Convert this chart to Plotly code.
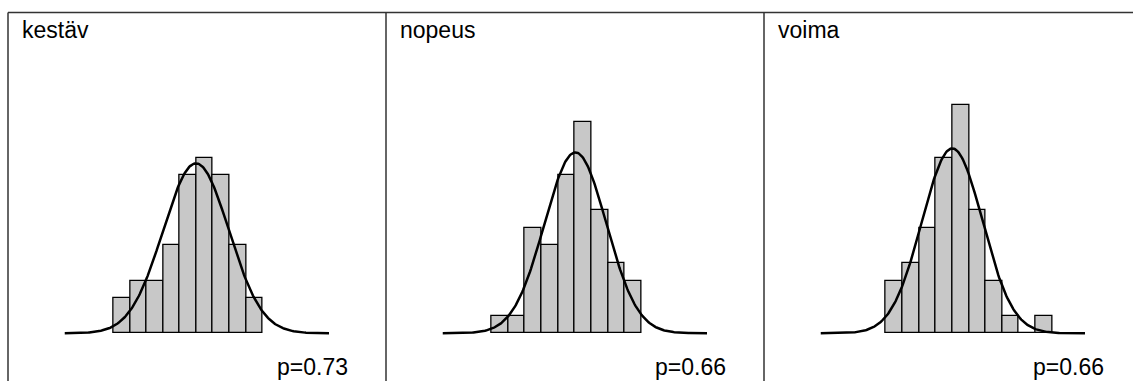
import numpy as np
import plotly.graph_objects as go

# ---- data ----
panel_titles = ["kestäv", "nopeus", "voima"]
p_labels = ["p=0.73", "p=0.66", "p=0.66"]

# histogram bin left edges (in bin-width units) and counts
kestav_edges = [0, 1, 2, 3, 4, 5, 6, 7, 8]
kestav_counts = [2, 3, 3, 5, 9, 10, 9, 5, 2]
nopeus_edges = [0, 1, 2, 3, 4, 5, 6, 7, 8]
nopeus_counts = [1, 1, 6, 5, 9, 12, 7, 4, 3]
voima_edges = [0, 1, 2, 3, 4, 5, 6, 7, 8, 9]
voima_counts = [3, 4, 6, 10, 13, 7, 3, 1, 0, 1]

# fitted normal curves: mean, sd, and drawn range (same units as edges)
curve_mean = [4.98, 5.04, 3.99]
curve_sd = [1.98, 1.86, 1.82]
curve_range = [(-2.95, 13.0), (-2.95, 12.95), (-3.93, 11.97)]

bin_width = 1.0
edges_all = [kestav_edges, nopeus_edges, voima_edges]
counts_all = [kestav_counts, nopeus_counts, voima_counts]

# ---- layout geometry ----
W, H = 1133, 381
panel_lefts = [8, 386, 764]
baseline_px = 333.3
unit_px = 17.57          # pixels per count
dom_bottom_px = 345
dom_top_px = 40

fig = go.Figure()
layout_axes = {}
for i in range(3):
    xa = "x" if i == 0 else f"x{i+1}"
    ya = "y" if i == 0 else f"y{i+1}"
    edges = np.array(edges_all[i], dtype=float)
    counts = np.array(counts_all[i], dtype=float)
    n = counts.sum()
    fig.add_trace(go.Bar(
        x=edges + bin_width / 2, y=counts, width=bin_width,
        marker=dict(color="#c8c8c8", line=dict(color="black", width=1.3)),
        xaxis=xa, yaxis=ya, showlegend=False, hoverinfo="skip"))
    lo, hi = curve_range[i]
    xs = np.linspace(lo, hi, 300)
    mu, sd = curve_mean[i], curve_sd[i]
    ys = n * bin_width * np.exp(-0.5 * ((xs - mu) / sd) ** 2) / (sd * np.sqrt(2 * np.pi))
    fig.add_trace(go.Scatter(
        x=xs, y=ys, mode="lines", line=dict(color="black", width=2.5),
        xaxis=xa, yaxis=ya, showlegend=False, hoverinfo="skip"))

    left = panel_lefts[i]
    x0 = (left + 56.5) / W
    x1 = (left + 321) / W
    y0 = (H - dom_bottom_px) / H
    y1 = (H - dom_top_px) / H
    ymin = -(dom_bottom_px - baseline_px) / unit_px
    ymax = (baseline_px - dom_top_px) / unit_px
    kx = "xaxis" if i == 0 else f"xaxis{i+1}"
    ky = "yaxis" if i == 0 else f"yaxis{i+1}"
    layout_axes[kx] = dict(domain=[x0, x1], range=[lo, hi], visible=False,
                           anchor=ya, fixedrange=True)
    layout_axes[ky] = dict(domain=[y0, y1], range=[ymin, ymax], visible=False,
                           anchor=xa, fixedrange=True)

fig.update_layout(**layout_axes)

# borders
shapes = []
top_y = (H - 12.5) / H
shapes.append(dict(type="line", xref="paper", yref="paper",
                   x0=panel_lefts[0] / W, x1=1.0, y0=top_y, y1=top_y,
                   line=dict(color="#333333", width=1.5)))
for left in panel_lefts:
    shapes.append(dict(type="line", xref="paper", yref="paper",
                       x0=left / W, x1=left / W, y0=0, y1=top_y,
                       line=dict(color="#333333", width=1.5)))

annotations = []
font = dict(family="Liberation Sans, Arial, sans-serif", size=23, color="black")
for i, left in enumerate(panel_lefts):
    annotations.append(dict(text=panel_titles[i], xref="paper", yref="paper",
                            x=(left + 14) / W, y=(H - 17) / H,
                            xanchor="left", yanchor="top", showarrow=False,
                            borderpad=0, borderwidth=0, font=font))
    annotations.append(dict(text=p_labels[i], xref="paper", yref="paper",
                            x=(left + 340) / W, y=(H - 354) / H,
                            xanchor="right", yanchor="top", showarrow=False,
                            borderpad=0, borderwidth=0, font=font))

fig.update_layout(width=W, height=H, margin=dict(l=0, r=0, t=0, b=0),
                  paper_bgcolor="white", plot_bgcolor="white",
                  bargap=0, shapes=shapes, annotations=annotations)

fig.write_html("out.html", config={"displayModeBar": False})
